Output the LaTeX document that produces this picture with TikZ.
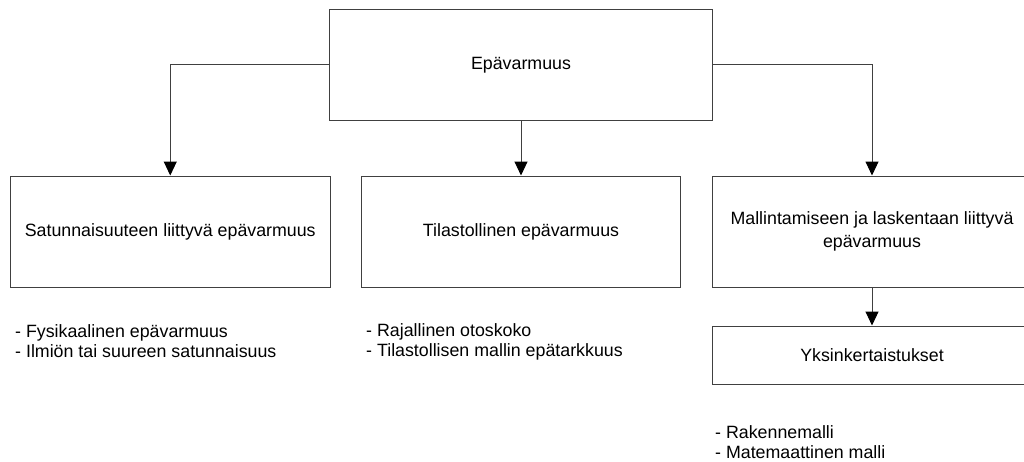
\documentclass[tikz,border=0pt]{standalone}
\usepackage{fontspec}
\setmainfont{Liberation Sans}
\usetikzlibrary{arrows.meta}

\definecolor{linegray}{HTML}{404040}

\tikzset{
  box/.style={draw=linegray, line width=1pt, fill=white, inner sep=0pt,
              align=center, font=\fontsize{17.8}{23}\selectfont},
  note/.style={inner sep=0pt, align=left, anchor=west,
               font=\fontsize{17.8}{20}\selectfont},
  link/.style={draw=linegray, line width=1pt,
               -{Triangle[length=14pt,width=13pt,color=black]}}
}

\begin{document}
\begin{tikzpicture}[x=1pt,y=-1pt]
  \useasboundingbox (0,0) rectangle (1024,461);
  \clip (0,0) rectangle (1024,461);

  % main category
  \node[box, minimum width=382.5pt, minimum height=110.5pt] (root) at (521,64.75) {Epävarmuus};

  % sub categories
  \node[box, minimum width=319.5pt, minimum height=111.5pt] (rand) at (170.25,231.75)
    {Satunnaisuuteen liittyvä epävarmuus};
  \node[box, minimum width=319.3pt, minimum height=111.5pt] (stat) at (521,231.75)
    {Tilastollinen epävarmuus};
  \node[box, minimum width=318.6pt, minimum height=111.5pt] (model) at (872,231.75)
    {Mallintamiseen ja laskentaan liittyvä\\epävarmuus};
  \node[box, minimum width=318.6pt, minimum height=58pt] (simp) at (872,355)
    {Yksinkertaistukset};

  % connectors
  \draw[link] (root.west) -| (rand.north);
  \draw[link] (root.south) -- (stat.north);
  \draw[link] (root.east) -| (model.north);
  \draw[link] (model.south) -- (simp.north);

  % item lists
  \node[note] (randlist) at (15,341.5)
    {- Fysikaalinen epävarmuus\\- Ilmiön tai suureen satunnaisuus};
  \node[note] (statlist) at (366,341.5)
    {- Rajallinen otoskoko\\- Tilastollisen mallin epätarkkuus};
  \node[note] (simplist) at (715,442)
    {- Rakennemalli\\- Matemaattinen malli};
\end{tikzpicture}
\end{document}
